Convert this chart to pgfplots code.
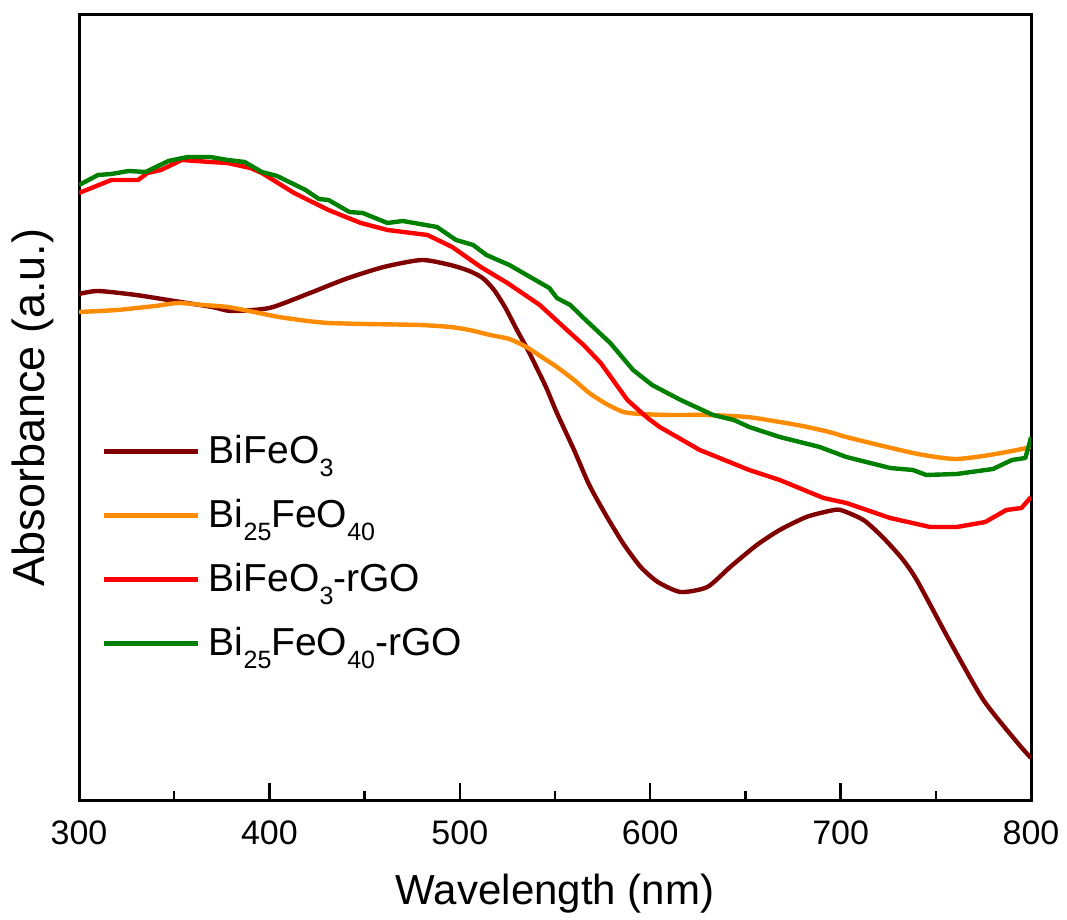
\documentclass[border=0pt]{standalone}
\usepackage{fontspec}
\setmainfont{Liberation Sans}
\usepackage{pgfplots}
\pgfplotsset{compat=1.18}
\usetikzlibrary{calc}
\definecolor{cBFO}{HTML}{800000}
\definecolor{cB25}{HTML}{FF8C00}
\definecolor{cBFOr}{HTML}{FF0000}
\definecolor{cB25r}{HTML}{008000}
\newcommand{\sub}[1]{\raisebox{-0.33em}{\fontsize{12.5}{13}\selectfont #1}}

\begin{document}
\begin{tikzpicture}
\begin{axis}[
  name=ax,
  scale only axis,
  width=476pt, height=392.5pt,
  xmin=300, xmax=800, ymin=0, ymax=785,
  xtick={300,400,...,800},
  extra x ticks={350,450,...,750},
  extra x tick labels={},
  extra x tick style={major tick length=4.5pt},
  xtick pos=left,
  ytick=\empty,
  minor ytick={0,29.074,...,785},
  axis line style={line width=1.5pt},
  every tick/.style={black, line width=1.2pt},
  tick align=inside,
  major tick length=8.5pt, minor tick length=2pt,
  tick label style={font=\fontsize{17}{20}\selectfont},
  xticklabel style={yshift=-7pt},
  /pgf/number format/assume math mode=true,
  xlabel={Wavelength (nm)}, ylabel={Absorbance (a.u.)},
  xlabel style={font=\fontsize{21}{24}\selectfont, yshift=-7.5pt},
  ylabel style={font=\fontsize{22.5}{26}\selectfont, yshift=9pt},
  legend style={draw=none, fill=none, at={(0.017,0.475)}, anchor=north west,
    font=\fontsize{19.5}{22}\selectfont, row sep=7pt,
    nodes={text height=14pt, text depth=7pt}},
  legend cell align=left,
  legend image code/.code={\draw[#1] (0pt,2.5pt) -- (47pt,2.5pt); \path (49.5pt,2.5pt);},
  every axis plot/.append style={line width=2.2pt, line join=round},
]
\addplot[cBFO, smooth, tension=0.4] coordinates {
(300,506) (310,509) (330,505) (350,499) (370,493) (380,489) (400,492)
(420,506) (440,521) (460,533) (480,540) (495,535) (505,529) (512,522)
(518,510) (524,492) (530,470) (536,449) (545,414) (551,387) (560,350)
(568,315) (577,284) (586,256) (595,233) (604,218) (616,208) (630,213)
(642,233) (656,255) (668,270) (682,283) (694,289) (700,290) (712,280)
(722,263) (732,242) (740,220) (757,160) (775,100) (793,57) (800,42)};
\addlegendentry{BiFeO\sub{3}}
\addplot[cB25, smooth, tension=0.4] coordinates {
(300,488) (320,490) (340,494) (352,497) (365,495) (378,493) (392,488)
(405,483) (420,479) (431,477) (450,476) (479,475) (495,473) (505,470)
(516,465) (526,461) (535,453) (543,443) (551,433) (560,420) (568,407)
(577,396) (586,388) (595,386) (610,385) (630,385) (651,383) (668,378)
(680,374) (694,368) (703,363) (720,355) (738,347) (750,343) (761,341)
(775,344) (790,349) (800,353)};
\addlegendentry{Bi\sub{25}FeO\sub{40}}
\addplot[cBFOr] coordinates {
(300,607) (317,620) (331,620) (336,627) (343,630) (354,640) (369,638)
(378,637) (390,632) (396,627) (413,607) (431,590) (448,577) (462,570)
(483,565) (496,553) (511,533) (525,517) (542,495) (558,467) (565,455)
(574,437) (588,400) (598,383) (605,373) (626,350) (652,330) (668,320)
(691,302) (703,297) (726,282) (747,273) (761,273) (776,278) (787,290)
(795,292) (800,303)};
\addlegendentry{BiFeO\sub{3}-rGO}
\addplot[cB25r] coordinates {
(300,615) (310,625) (317,626) (326,629) (335,628) (347,639) (357,643)
(369,643) (378,640) (387,638) (396,628) (404,624) (419,610) (426,601)
(431,600) (442,588) (449,587) (462,577) (470,579) (488,573) (498,560)
(507,555) (514,545) (526,535) (547,512) (551,502) (558,495) (565,482)
(579,457) (591,430) (601,415) (616,400) (633,385) (644,380) (652,373)
(668,363) (689,353) (703,343) (726,332) (738,330) (745,325) (761,326)
(780,331) (790,340) (797,342) (799,355) (800,363)};
\addlegendentry{Bi\sub{25}FeO\sub{40}-rGO}
\end{axis}
\path ($(ax.south west)+(-39.5pt,-59.5pt)$) rectangle ($(ax.north east)+(18pt,7.5pt)$);
\end{tikzpicture}
\end{document}
